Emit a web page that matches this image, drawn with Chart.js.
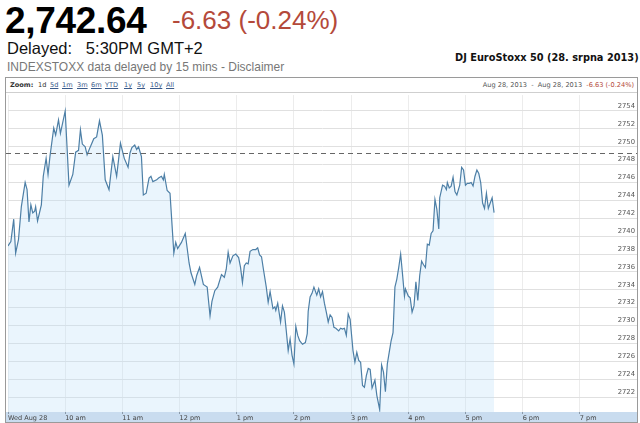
<!DOCTYPE html>
<html>
<head>
<meta charset="utf-8">
<script src="https://cdn.jsdelivr.net/npm/chart.js@4/dist/chart.umd.min.js"></script>
<style>
  html, body { margin: 0; padding: 0; background: #fff; width: 640px; height: 423px; overflow: hidden; font-family: "Liberation Sans", Arial, sans-serif; }
  .abs { position: absolute; white-space: nowrap; }
  #price { left: 5px; top: 0px; font-size: 37px; font-weight: bold; color: #000; letter-spacing: -0.3px; }
  #chg { left: 172px; top: 5px; font-size: 26px; color: #b4493a; }
  #delayed { left: 7px; top: 39px; font-size: 16.5px; color: #111; }
  #disc { left: 7px; top: 59px; font-size: 12px; color: #777; transform-origin: left top; transform: scaleY(1.1); }
  #title { left: 455px; top: 52px; font-family: "DejaVu Sans", Verdana, sans-serif; font-size: 9.8px; font-weight: bold; color: #111; }
  #box { left: 5px; top: 77px; width: 631px; height: 344px; border: 1px solid #9a9a9a; }
  #toolbar { left: 6px; top: 78px; width: 631px; height: 14px; border-bottom: 1px solid #cfcfcf; font-family: "DejaVu Sans", Verdana, sans-serif; font-size: 6.6px; color: #333; }
  #zl { left: 4px; top: 3px; font-weight: bold; }
  .lk { top: 3px; text-decoration: underline; color: #3a5a8a; }
  #rng { right: 3px; top: 3px; color: #555; }
  #rng span { color: #b4493a; }
  #c { position: absolute; left: 6px; top: 93px; }
</style>
</head>
<body>
<div class="abs" id="price">2,742.64</div>
<div class="abs" id="chg">-6.63 (-0.24%)</div>
<div class="abs" id="delayed">Delayed:&nbsp;&nbsp; 5:30PM GMT+2</div>
<div class="abs" id="disc">INDEXSTOXX data delayed by 15 mins - Disclaimer</div>
<div class="abs" id="title">DJ EuroStoxx 50 (28. srpna 2013)</div>
<div class="abs" id="box"></div>
<div class="abs" id="toolbar">
  <div class="abs" id="zl">Zoom:</div>
  <div class="abs" style="left:32px;top:3px;color:#333">1d</div>
  <div class="abs lk" style="left:44px">5d</div>
  <div class="abs lk" style="left:56px">1m</div>
  <div class="abs lk" style="left:71px">3m</div>
  <div class="abs lk" style="left:85px">6m</div>
  <div class="abs lk" style="left:99px">YTD</div>
  <div class="abs lk" style="left:118px">1y</div>
  <div class="abs lk" style="left:131px">5y</div>
  <div class="abs lk" style="left:144px">10y</div>
  <div class="abs lk" style="left:160px">All</div>
  <div class="abs" id="rng">Aug 28, 2013 &nbsp;-&nbsp; Aug 28, 2013 &nbsp;<span>-6.63 (-0.24%)</span></div>
</div>
<canvas id="c" width="631" height="329"></canvas>
<script>
// ---- data ----
const times = ['9:00','9:03','9:06','9:08','9:11','9:14','9:18','9:20','9:22','9:24','9:26','9:28','9:29','9:31','9:35','9:37','9:40','9:42','9:44','9:48','9:50','9:53','9:55','10:00','10:04','10:08','10:11','10:14','10:16','10:18','10:21','10:23','10:26','10:30','10:33','10:36','10:39','10:42','10:46','10:50','10:54','10:58','11:02','11:06','11:08','11:10','11:13','11:15','11:17','11:20','11:22','11:25','11:28','11:30','11:32','11:36','11:38','11:41','11:43','11:44','11:47','11:50','11:54','11:56','11:58','12:02','12:06','12:10','12:12','12:16','12:18','12:21','12:25','12:29','12:32','12:34','12:37','12:40','12:44','12:47','12:49','12:51','12:53','12:56','12:59','13:02','13:04','13:06','13:08','13:10','13:12','13:14','13:17','13:20','13:22','13:24','13:26','13:28','13:31','13:33','13:35','13:38','13:40','13:41','13:43','13:46','13:48','13:50','13:52','13:54','13:56','13:58','14:00','14:02','14:04','14:06','14:09','14:12','14:14','14:15','14:17','14:19','14:21','14:24','14:26','14:28','14:30','14:32','14:34','14:36','14:38','14:40','14:42','14:44','14:47','14:49','14:51','14:53','14:55','14:57','14:59','15:02','15:04','15:06','15:08','15:10','15:12','15:14','15:16','15:18','15:20','15:22','15:25','15:27','15:30','15:32','15:34','15:36','15:38','15:40','15:42','15:44','15:46','15:48','15:50','15:52','15:54','15:56','15:57','16:00','16:02','16:04','16:06','16:08','16:10','16:12','16:14','16:16','16:18','16:20','16:22','16:24','16:26','16:28','16:30','16:32','16:33','16:36','16:38','16:40','16:41','16:43','16:45','16:47','16:49','16:51','16:54','16:56','16:58','17:00','17:02','17:04','17:06','17:08','17:10','17:12','17:14','17:16','17:18','17:20','17:22','17:24','17:26','17:28','17:30'];
const values = [2738.9,2739.4,2741.9,2738.1,2739.6,2743.3,2746.0,2745.2,2741.6,2743.5,2742.6,2742.8,2743.3,2741.7,2743.5,2746.7,2748.7,2746.9,2748.9,2752.1,2751.3,2753.0,2751.5,2754.0,2745.7,2746.9,2749.4,2749.6,2751.9,2750.3,2750.0,2749.1,2749.9,2750.9,2751.1,2752.9,2751.3,2746.3,2745.2,2748.9,2746.7,2750.4,2748.7,2747.7,2749.3,2749.9,2750.2,2749.7,2750.0,2748.9,2744.6,2744.8,2746.5,2746.7,2746.1,2746.3,2746.5,2746.7,2746.3,2746.9,2745.1,2744.8,2738.1,2739.3,2738.6,2739.3,2740.3,2737.0,2735.9,2734.6,2735.6,2736.5,2734.6,2734.3,2731.1,2732.7,2733.9,2734.3,2735.7,2735.4,2736.3,2738.2,2737.0,2737.8,2738.0,2737.6,2736.5,2734.8,2736.7,2737.0,2736.9,2738.3,2738.5,2738.5,2738.7,2737.9,2737.7,2736.3,2734.3,2732.6,2733.8,2731.9,2732.1,2731.7,2732.5,2730.4,2732.2,2731.5,2729.4,2727.2,2728.5,2726.7,2725.7,2729.9,2728.9,2728.3,2727.9,2728.1,2729.1,2731.6,2733.2,2733.6,2734.3,2733.4,2734.1,2733.2,2733.8,2732.5,2731.5,2730.4,2731.2,2730.9,2729.8,2729.7,2729.4,2729.7,2729.6,2729.7,2728.9,2731.3,2730.7,2727.2,2725.9,2727.0,2726.1,2725.9,2723.3,2723.1,2724.4,2725.2,2725.1,2723.0,2723.9,2722.2,2720.6,2725.6,2724.8,2722.6,2725.7,2727.0,2728.3,2729.2,2734.3,2735.2,2736.5,2738.0,2735.7,2733.3,2734.1,2733.3,2733.1,2731.5,2732.2,2734.9,2732.8,2735.6,2737.2,2736.8,2736.5,2739.1,2739.0,2740.3,2740.6,2744.1,2743.0,2740.8,2744.3,2745.7,2745.6,2745.2,2746.0,2745.4,2745.6,2746.6,2745.0,2744.6,2745.7,2747.7,2747.4,2745.7,2745.9,2745.9,2746.0,2745.6,2746.7,2747.4,2747.0,2746.0,2743.7,2743.1,2744.8,2743.1,2743.7,2744.3,2742.64];
const previousClose = 2749.27;
const xTickLabels = ['Wed Aug 28','10 am','11 am','12 pm','1 pm','2 pm','3 pm','4 pm','5 pm','6 pm','7 pm'];
const yTickValues = [2722,2724,2726,2728,2730,2732,2734,2736,2738,2740,2742,2744,2746,2748,2750,2752,2754];
const sessionStart = '9:00', sessionEnd = '20:00';

function toMin(t) { const [h, m] = t.split(':').map(Number); return h * 60 + m; }
const t0 = toMin(sessionStart);
const points = times.map((t, i) => ({ x: toMin(t) - t0, y: values[i] }));

const decor = {
  id: 'decor',
  beforeDraw(chart) {
    const { ctx, chartArea, width, height } = chart;
    ctx.save();
    ctx.fillStyle = '#c9dcef';
    ctx.fillRect(0, chartArea.bottom, width, height - chartArea.bottom);
    ctx.restore();
  },
  afterDatasetsDraw(chart) {
    const { ctx, chartArea, scales } = chart;
    const y = Math.round(scales.y.getPixelForValue(previousClose)) + 0.5;
    ctx.save();
    ctx.strokeStyle = '#666';
    ctx.lineWidth = 1;
    ctx.setLineDash([5, 4]);
    ctx.beginPath();
    ctx.moveTo(0, y);
    ctx.lineTo(chartArea.right, y);
    ctx.stroke();
    ctx.restore();
  }
};

new Chart(document.getElementById('c'), {
  type: 'line',
  data: {
    datasets: [{
      data: points,
      borderColor: '#4d7fa6',
      borderWidth: 1.2,
      backgroundColor: 'rgba(190,225,248,0.32)',
      fill: 'start',
      pointRadius: 0,
      tension: 0
    }]
  },
  options: {
    responsive: false,
    animation: false,
    layout: { padding: { left: 2, right: 0, top: 0, bottom: 0 } },
    plugins: { legend: { display: false }, tooltip: { enabled: false } },
    scales: {
      x: {
        type: 'linear',
        min: 0,
        max: toMin(sessionEnd) - t0,
        afterBuildTicks(s) { s.ticks = xTickLabels.map((_, i) => ({ value: i * 60 })); },
        afterFit(s) { s.height = 10; },
        ticks: {
          align: 'start',
          padding: 0,
          maxRotation: 0,
          autoSkip: false,
          font: { family: 'DejaVu Sans', size: 6.5 },
          color: '#444',
          callback: (v, i) => xTickLabels[i]
        },
        grid: { color: '#ececec', tickLength: 2, tickColor: '#8a9aaa', drawTicks: true },
        border: { display: false }
      },
      y: {
        position: 'right',
        min: 2720.33,
        max: 2755.78,
        afterBuildTicks(s) { s.ticks = yTickValues.map(v => ({ value: v })); },
        afterFit(s) { s.width = 0; },
        ticks: {
          mirror: true,
          padding: -2,
          labelOffset: -5,
          font: { family: 'DejaVu Sans', size: 6.8 },
          color: '#555',
          callback: v => String(v)
        },
        grid: { color: '#e0e0e0', drawTicks: false },
        border: { display: false }
      }
    }
  },
  plugins: [decor]
});
</script>
</body>
</html>
